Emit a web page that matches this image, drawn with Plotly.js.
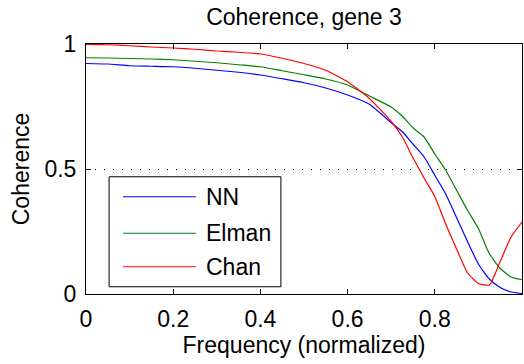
<!DOCTYPE html>
<html>
<head>
<meta charset="utf-8">
<script src="https://cdn.plot.ly/plotly-3.0.1.min.js"></script>
<style>html,body{margin:0;padding:0;background:#fff;}#chart{width:524px;height:364px;}</style>
</head>
<body>
<div id="chart"></div>
<script>
var freq = [0, 0.05, 0.1, 0.15, 0.2, 0.25, 0.3, 0.35, 0.4, 0.45, 0.5, 0.55, 0.6, 0.65, 0.7, 0.725, 0.75, 0.775, 0.8, 0.825, 0.85, 0.875, 0.9, 0.925, 0.95, 0.975, 1.0];
var nn    = [0.922, 0.920, 0.913, 0.911, 0.909, 0.903, 0.895, 0.887, 0.876, 0.861, 0.845, 0.824, 0.796, 0.759, 0.685, 0.650, 0.600, 0.550, 0.475, 0.400, 0.305, 0.210, 0.120, 0.060, 0.026, 0.008, 0.002];
var elman = [0.945, 0.944, 0.942, 0.940, 0.937, 0.931, 0.925, 0.917, 0.909, 0.893, 0.877, 0.860, 0.836, 0.792, 0.748, 0.712, 0.665, 0.629, 0.560, 0.495, 0.415, 0.335, 0.262, 0.162, 0.102, 0.068, 0.057];
var chan  = [0.998, 0.997, 0.993, 0.988, 0.984, 0.979, 0.972, 0.967, 0.960, 0.943, 0.922, 0.895, 0.849, 0.782, 0.690, 0.630, 0.545, 0.465, 0.390, 0.280, 0.180, 0.085, 0.042, 0.036, 0.130, 0.228, 0.288];
var seriesNames = ["NN", "Elman", "Chan"];
var seriesColors = ["#0000ff", "#008000", "#ff0000"];
var xTicks = [0, 0.2, 0.4, 0.6, 0.8, 1];
var xTickText = ["0", "0.2", "0.4", "0.6", "0.8", "1"];
var yTicks = [0, 0.5, 1];
var yTickText = ["0", "0.5", "1"];

var FONT = "Liberation Sans, Arial, Helvetica, sans-serif";
var series = [nn, elman, chan];
var traces = series.map(function (vals, i) {
  return {
    x: freq, y: vals, type: "scatter", mode: "lines",
    name: seriesNames[i], line: {color: seriesColors[i], width: 1.2, shape: "spline", smoothing: 0.5},
    showlegend: false, hoverinfo: "skip"
  };
});

// custom MATLAB-style legend box (paper coordinates)
var shapes = [{
  type: "rect", xref: "paper", yref: "paper",
  x0: 0.053, x1: 0.447, y0: 0.029, y1: 0.469,
  line: {color: "#000", width: 1}, fillcolor: "#fff", layer: "above"
}];
var annotations = [];
var legY = [0.389, 0.243, 0.109];
seriesNames.forEach(function (nm, i) {
  shapes.push({type: "line", xref: "paper", yref: "paper",
    x0: 0.085, x1: 0.252, y0: legY[i], y1: legY[i],
    line: {color: seriesColors[i], width: 1.2}, layer: "above"});
  annotations.push({xref: "paper", yref: "paper", x: 0.271, y: legY[i],
    xanchor: "left", yanchor: "middle", text: nm, showarrow: false,
    font: {family: FONT, size: 23, color: "#000"}});
});

var axisCommon = {
  showline: true, linecolor: "#000", linewidth: 1, mirror: "ticks",
  ticks: "inside", ticklen: 5, tickwidth: 1, tickcolor: "#000",
  zeroline: false, tickfont: {family: FONT, size: 23, color: "#000"}
};

var layout = {
  width: 524, height: 364,
  margin: {l: 86, r: 2, t: 44, b: 70},
  paper_bgcolor: "#fff", plot_bgcolor: "#fff",
  font: {family: FONT, size: 23, color: "#000"},
  title: {text: "Coherence, gene 3", font: {family: FONT, size: 23, color: "#000"},
    x: 0.5, xref: "paper", y: 0.953, yref: "container", yanchor: "middle"},
  xaxis: Object.assign({}, axisCommon, {
    range: [0, 1], tickvals: xTicks, ticktext: xTickText, showgrid: false,
    ticklabelstandoff: 4,
    title: {text: "Frequency (normalized)", font: {family: FONT, size: 23, color: "#000"}, standoff: 6}
  }),
  yaxis: Object.assign({}, axisCommon, {
    range: [0, 1], tickvals: yTicks, ticktext: yTickText,
    showgrid: true, gridcolor: "#000", gridwidth: 1, griddash: "1px,8px",
    ticklabelstandoff: 4,
    title: {text: "Coherence", font: {family: FONT, size: 23, color: "#000"}, standoff: 8}
  }),
  shapes: shapes,
  annotations: annotations,
  showlegend: false
};

Plotly.newPlot("chart", traces, layout, {displayModeBar: false, staticPlot: true});
</script>
</body>
</html>
